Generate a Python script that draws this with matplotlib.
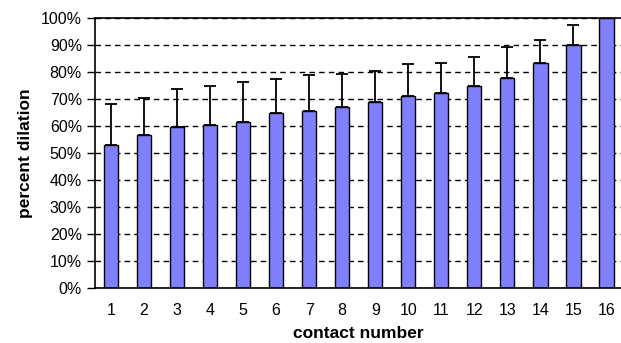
import matplotlib.pyplot as plt
import numpy as np
from matplotlib.ticker import PercentFormatter

plt.rcParams["font.family"] = ["Liberation Sans", "DejaVu Sans"]

contacts = list(range(1, 17))
dilation = [52.7, 56.4, 59.5, 60.4, 61.4, 64.6, 65.6, 67.0,
            68.6, 71.0, 72.1, 74.7, 77.8, 83.3, 90.0, 100.0]
upper = [68.0, 70.1, 73.7, 74.7, 76.3, 77.2, 78.6, 79.3,
         80.4, 82.8, 83.4, 85.3, 89.0, 91.9, 97.2, 100.0]
err_up = [u - d for u, d in zip(upper, dilation)]
err_down = [0] * len(dilation)

W, H = 621, 343
fig = plt.figure(figsize=(W / 100, H / 100), dpi=100)
left, right, top, bottom = 94.5, 623, 17.7, 287.7
ax = fig.add_axes([left / W, 1 - bottom / H, (right - left) / W, (bottom - top) / H])

ax.set_axisbelow(True)
ax.yaxis.grid(True, color="black", linestyle=(0, (4, 3)), linewidth=1)
ax.bar(contacts, dilation, width=0.43, color="#8080ff", edgecolor="black", linewidth=1, zorder=2)
ax.errorbar(contacts, dilation, yerr=[err_down, err_up], fmt="none", ecolor="black",
            elinewidth=1.3, capsize=4, capthick=1.3, zorder=3)

ax.set_xlim(0.5, 16.5)
ax.set_ylim(0, 100)
ax.set_yticks(np.arange(0, 101, 10))
ax.yaxis.set_major_formatter(PercentFormatter(decimals=0))
ax.set_xticks(contacts)
ax.tick_params(axis="x", length=0, pad=11, labelsize=11.5)
ax.tick_params(axis="y", length=6, width=1, pad=3, labelsize=11.5)

for side in ["left", "bottom", "top"]:
    ax.spines[side].set_linewidth(1.2)
ax.spines["right"].set_visible(False)

ax.set_xlabel("contact number", fontsize=12.5, fontweight="bold", labelpad=6)
ax.set_ylabel("percent dilation", fontsize=12.5, fontweight="bold", labelpad=6)

fig.savefig("out.png", dpi=100)
